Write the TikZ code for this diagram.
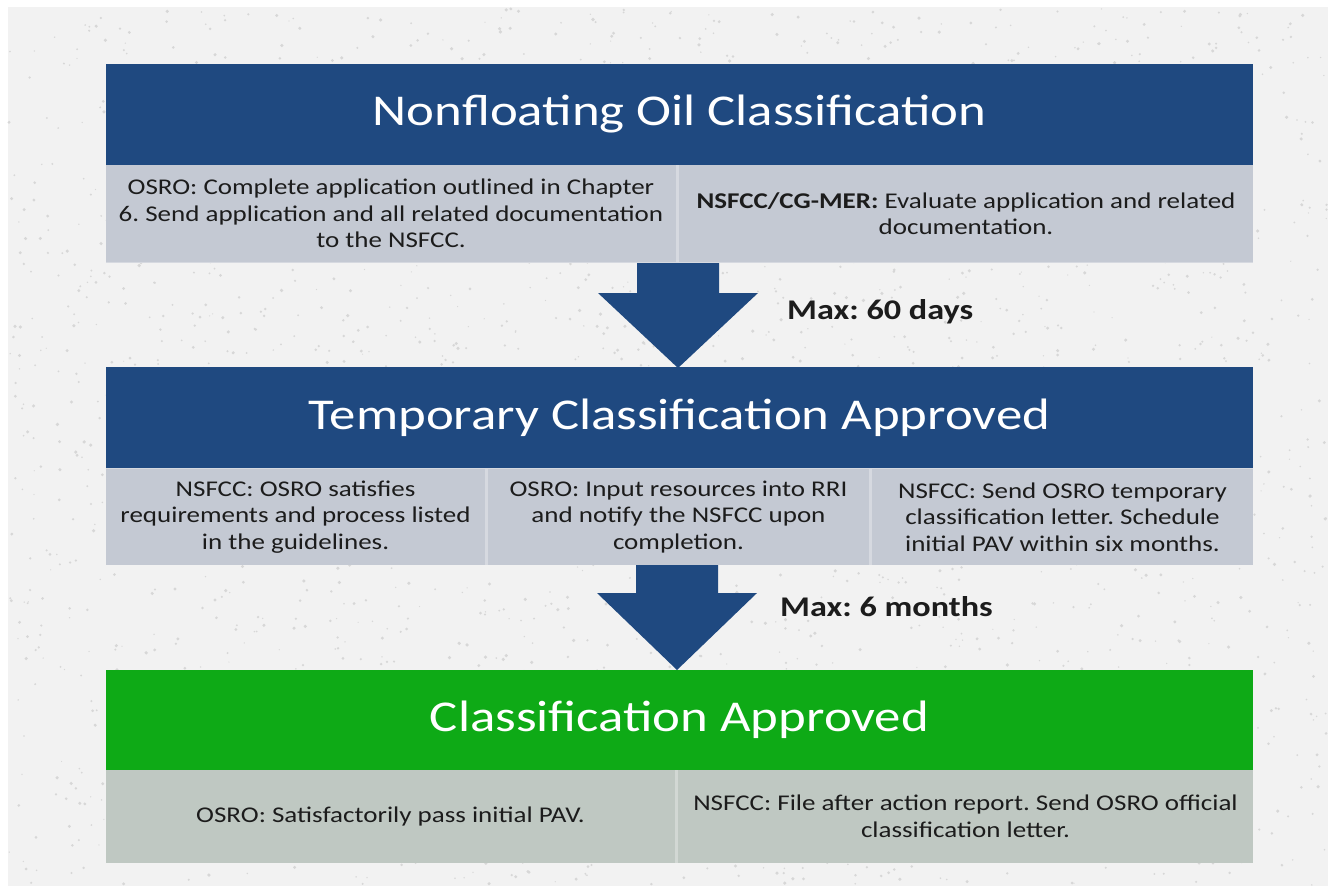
\documentclass[tikz,border=0pt]{standalone}
\usepackage{fontspec}
\setmainfont[FakeStretch=1.2]{Carlito}
\frenchspacing
\usetikzlibrary{calc}
\definecolor{bannerblue}{RGB}{31,73,128}
\definecolor{bannergreen}{RGB}{14,170,22}
\definecolor{cellblue}{RGB}{196,201,211}
\definecolor{cellgreen}{RGB}{191,200,194}
\definecolor{bggray}{RGB}{242,242,242}
\definecolor{speck}{RGB}{215,215,215}
\definecolor{txt}{RGB}{28,28,28}
\tikzset{
  banner/.style={fill=bannerblue, text=white, minimum width=1147pt, minimum height=101pt, inner sep=0pt,
    font=\fontsize{44}{50}\selectfont},
  gbanner/.style={banner, fill=bannergreen, minimum height=100pt},
  cellbox/.style={fill=cellblue, text=txt, inner sep=0pt, align=center,
    font=\fontsize{22.5}{26.5}\selectfont},
  gcellbox/.style={cellbox, fill=cellgreen},
  maxlabel/.style={anchor=west, text=txt, inner sep=0pt, font=\fontsize{28.5}{31}\selectfont\bfseries},
  arrowfill/.style={fill=bannerblue}
}
\begin{document}
\begin{tikzpicture}[x=1pt,y=-1pt]
\useasboundingbox (0,0) rectangle (1335,892);
\fill[white] (0,0) rectangle (1335,892);
\fill[bggray] (8,7) rectangle (1328,886);
\pgfmathsetseed{7}
\foreach \i in {1,...,2600}{
  \pgfmathsetmacro\rx{9+1318*rnd}
  \pgfmathsetmacro\ry{8+877*rnd}
  \pgfmathsetmacro\rr{0.6+1.2*rnd}
  \fill[speck] (\rx,\ry) circle (\rr);
}

% banners
\node[banner] (b1) at (679.5,114.5) {Nonfloating Oil Classification};
\node[banner] (b2) at (679.5,417.5) {Temporary Classification Approved};
\node[gbanner] (b3) at (679.5,720) {Classification Approved};

% row 1
\fill[cellblue!70!white] (106,165) rectangle (1253,263);
\node[cellbox, minimum width=570pt, minimum height=97pt] (c11) at (391,213.5)
  {OSRO: Complete application outlined in Chapter\\6. Send application and all related documentation\\to the NSFCC.};
\node[cellbox, minimum width=574pt, minimum height=97pt] (c12) at (966,213.5)
  {\textbf{NSFCC/CG-MER:} Evaluate application and related\\documentation.};

% row 2
\fill[cellblue!70!white] (106,468) rectangle (1253,565);
\node[cellbox, minimum width=379pt, minimum height=96pt] (c21) at (295.5,517)
  {NSFCC: OSRO satisfies\\requirements and process listed\\in the guidelines.};
\node[cellbox, minimum width=381pt, minimum height=96pt] (c22) at (678.5,517)
  {OSRO: Input resources into RRI\\and notify the NSFCC upon\\completion.};
\node[cellbox, minimum width=381pt, minimum height=96pt] (c23) at (1062.5,517)
  {NSFCC: Send OSRO temporary\\classification letter. Schedule\\initial PAV within six months.};

% row 3
\fill[cellgreen!70!white] (106,770) rectangle (1253,863);
\node[gcellbox, minimum width=569pt, minimum height=93pt] (c31) at (390.5,816.5)
  {OSRO: Satisfactorily pass initial PAV.};
\node[gcellbox, minimum width=575pt, minimum height=93pt] (c32) at (965.5,816.5)
  {NSFCC: File after action report. Send OSRO official\\classification letter.};

% arrows
\coordinate (a1s) at (678,263);
\coordinate (a1e) at (678,368);
\fill[arrowfill] ($(a1s)+(-41,0)$) -- ($(a1s)+(41,0)$) -- ($(a1s)+(41,30)$) -- ($(a1s)+(80,30)$)
  -- (a1e) -- ($(a1s)+(-80,30)$) -- ($(a1s)+(-41,30)$) -- cycle;
\coordinate (a2s) at (677,565);
\coordinate (a2e) at (677,670);
\fill[arrowfill] ($(a2s)+(-41,0)$) -- ($(a2s)+(41,0)$) -- ($(a2s)+(41,28)$) -- ($(a2s)+(80,28)$)
  -- (a2e) -- ($(a2s)+(-80,28)$) -- ($(a2s)+(-41,28)$) -- cycle;

\node[maxlabel] (m1) at (787,312) {Max: 60 days};
\node[maxlabel] (m2) at (780,607) {Max: 6 months};
\end{tikzpicture}
\end{document}
